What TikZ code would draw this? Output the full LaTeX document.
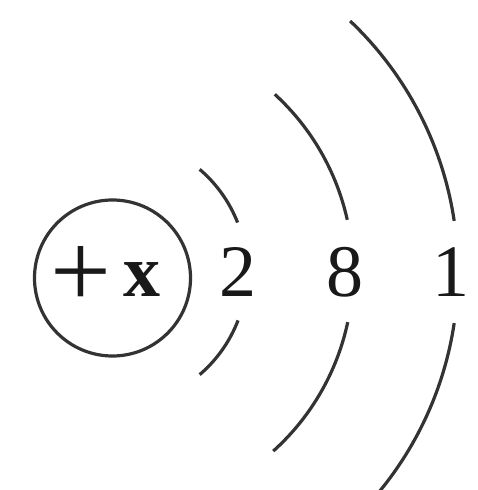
\documentclass[tikz,border=0pt]{standalone}
\usepackage{fontspec}
\setmainfont{Liberation Serif}
\begin{document}
\begin{tikzpicture}[x=1pt,y=1pt,
  shell/.style={line width=3.2pt,draw=black!80},
  num/.style={inner sep=0pt,anchor=base,font=\fontsize{74}{74}\selectfont,text=black!90}]
\useasboundingbox[fill=white] (0,0) rectangle (477,490);
\coordinate (c) at (112,218);
\node[circle,draw=black!80,line width=3.2pt,minimum size=156pt,inner sep=0pt] (nuc) at (112.5,212) {};
\node[inner sep=0pt,font=\fontsize{108}{108}\selectfont,text=black!90] (plus) at (81,213) {+};
\node[num] (x) at (141.5,193) {\textbf{x}};
\node[num] (n2) at (238,193) {2};
\node[num] (n8) at (345,193) {8};
\node[num] (n1) at (451,193) {1};
\draw[shell] ([shift={(c)}]21.5:135) arc[start angle=21.5,end angle=49.5,radius=135];
\draw[shell] ([shift={(c)}]-21:135) arc[start angle=-21,end angle=-49.5,radius=135];
\draw[shell] ([shift={(c)}]12.5:241) arc[start angle=12.5,end angle=47.5,radius=241];
\draw[shell] ([shift={(c)}]-12:241) arc[start angle=-12,end angle=-48,radius=241];
\draw[shell] ([shift={(c)}]8.5:346) arc[start angle=8.5,end angle=46.5,radius=346];
\draw[shell] ([shift={(c)}]-8.5:346) arc[start angle=-8.5,end angle=-46.5,radius=346];
\end{tikzpicture}
\end{document}
